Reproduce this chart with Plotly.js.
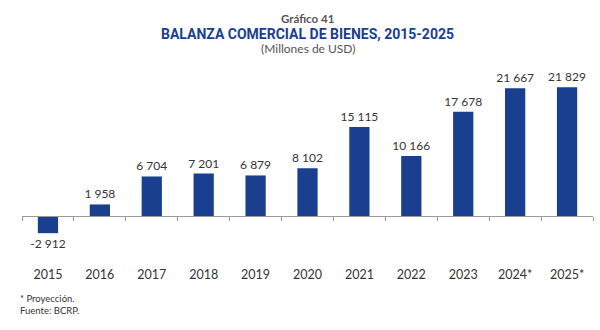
<!DOCTYPE html>
<html>
<head>
<meta charset="utf-8">
<script src="https://cdn.plot.ly/plotly-3.0.1.min.js"></script>
<style>html,body{margin:0;padding:0;background:#fff;}#chart{width:600px;height:330px;}</style>
</head>
<body>
<div id="chart"></div>
<script>
var years = ["2015","2016","2017","2018","2019","2020","2021","2022","2023","2024*","2025*"];
var balance = [-2912, 1958, 6704, 7201, 6879, 8102, 15115, 10166, 17678, 21667, 21829];

function fmt(v){
  var s = Math.abs(v).toString().replace(/\B(?=(\d{3})+(?!\d))/g, " ");
  return (v < 0 ? "-" : "") + s;
}
var labels = balance.map(fmt);

var yMin = -7802, yMax = 24762;
var zeroPos = (0 - yMin) / (yMax - yMin);

var FONT = "Lato, Open Sans, sans-serif";
var TFONT = "Roboto, Open Sans, sans-serif";

var data = [
  {
    type: "bar",
    x: years,
    y: balance,
    text: labels,
    textposition: "outside",
    constraintext: "none",
    cliponaxis: false,
    textfont: {family: FONT, size: 12, color: "#333333"},
    marker: {color: "#1a3f8f"},
    width: 0.39,
    hoverinfo: "none",
    xaxis: "x",
    yaxis: "y"
  },
  {
    type: "bar",
    x: years,
    y: years.map(function(){return null;}),
    xaxis: "x2",
    yaxis: "y",
    showlegend: false,
    hoverinfo: "none"
  }
];

var layout = {
  width: 600,
  height: 330,
  margin: {l: 22, r: 7, t: 70, b: 68},
  paper_bgcolor: "#ffffff",
  plot_bgcolor: "#ffffff",
  showlegend: false,
  barmode: "overlay",
  font: {family: FONT, color: "#333333"},
  xaxis: {
    type: "category",
    showgrid: false,
    showline: false,
    ticks: "",
    ticklabelstandoff: 3,
    tickfont: {family: FONT, size: 12.5, color: "#333333"},
    fixedrange: true
  },
  xaxis2: {
    type: "category",
    overlaying: "x",
    matches: "x",
    anchor: "free",
    position: zeroPos,
    side: "bottom",
    showgrid: false,
    showline: true,
    linecolor: "#9a9a9a",
    linewidth: 1,
    ticks: "outside",
    tickson: "boundaries",
    ticklen: 4,
    tickcolor: "#9a9a9a",
    showticklabels: false
  },
  yaxis: {
    range: [yMin, yMax],
    showgrid: false,
    zeroline: false,
    showticklabels: false,
    showline: false,
    ticks: "",
    fixedrange: true
  },
  annotations: [
    {text: "<b>Gráfico 41</b>", xref: "paper", yref: "paper", x: 0.5, y: 1, xanchor: "center", yanchor: "middle",
     yshift: 70 - 18, showarrow: false, font: {family: FONT, size: 11.5, color: "#555555"}},
    {text: "<b>BALANZA COMERCIAL DE BIENES, 2015-2025</b>", xref: "paper", yref: "paper", x: 0.5, y: 1, xanchor: "center", yanchor: "middle",
     yshift: 70 - 34, showarrow: false, font: {family: TFONT, size: 14, color: "#1a3f8f"}},
    {text: "(Millones de USD)", xref: "paper", yref: "paper", x: 0.5, y: 1, xanchor: "center", yanchor: "middle",
     yshift: 70 - 48, showarrow: false, font: {family: FONT, size: 12, color: "#555555"}},
    {text: "* Proyección.<br>Fuente: BCRP.", xref: "paper", yref: "paper", x: 0, y: 0, xanchor: "left", yanchor: "top", align: "left",
     xshift: -4, yshift: -(291 - 262), showarrow: false, font: {family: FONT, size: 9.5, color: "#333333"}}
  ]
};

Plotly.newPlot("chart", data, layout, {displayModeBar: false, staticPlot: true});
</script>
</body>
</html>
